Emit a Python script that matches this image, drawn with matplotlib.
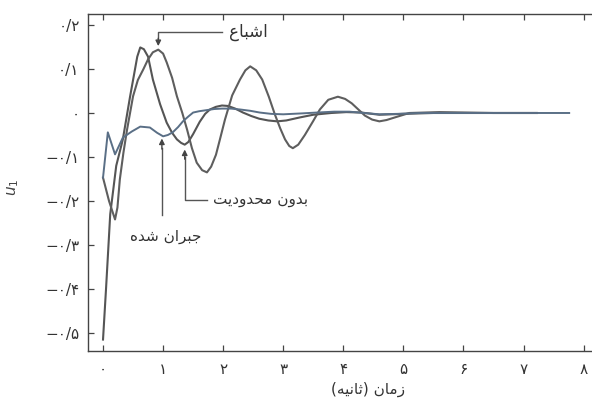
import matplotlib
matplotlib.use("Agg")
import matplotlib.pyplot as plt

plt.rcParams['font.family'] = ['DejaVu Sans']

# Persian text is given already shaped (presentation forms) and in visual order,
# because matplotlib does no RTL layout / Arabic joining by itself.
label_sat = "\uFEC9\uFE8E\uFE92\uFEB7\uFE8D"                                   # اشباع
label_free = "\uFE96\uFEF3\uFEA9\uFEED\uFEAA\uFEA4\uFEE3 \uFEE5\uFEED\uFEAA\uFE91"  # بدون محدودیت
label_comp = "\uFEE9\uFEAA\uFEB7 \uFEE5\uFE8D\uFEAE\uFE92\uFE9F"                  # جبران شده
xlabel = "(\uFEEA\uFEF4\uFEE7\uFE8E\uFE9B) \uFEE5\uFE8E\uFEE3\uFEAF"              # زمان (ثانیه)

# curve: no limit on the input
t_free = [0, 0.05, 0.12, 0.22, 0.33, 0.45, 0.52, 0.57, 0.62, 0.68, 0.75, 0.83, 0.95,
          1.06, 1.15, 1.23, 1.3, 1.36, 1.42, 1.5, 1.61, 1.7, 1.78, 1.88, 1.98, 2.08,
          2.2, 2.33, 2.47, 2.6, 2.75, 2.9, 3.05, 3.28, 3.5, 3.8, 4.05, 4.3, 4.6, 5.0,
          5.5, 6.5, 7.22]
u_free = [-0.515, -0.40, -0.23, -0.12, -0.06, 0.037, 0.09, 0.128, 0.149, 0.145,
          0.128, 0.076, 0.02, -0.022, -0.045, -0.06, -0.068, -0.072, -0.066, -0.048,
          -0.02, -0.002, 0.008, 0.014, 0.017, 0.016, 0.01, 0.001, -0.007, -0.013,
          -0.017, -0.019, -0.017, -0.01, -0.004, 0.0, 0.002, 0.001, -0.004, -0.002,
          0.0, 0.0, 0.0]

# saturated input
t_sat = [0, 0.1, 0.2, 0.24, 0.28, 0.34, 0.4, 0.5, 0.58, 0.67, 0.75, 0.83, 0.92, 1.0,
         1.06, 1.15, 1.23, 1.32, 1.4, 1.48, 1.56, 1.65, 1.73, 1.8, 1.88, 1.95, 2.03,
         2.15, 2.28, 2.37, 2.45, 2.55, 2.65, 2.76, 2.86, 2.95, 3.03, 3.1, 3.16, 3.25,
         3.36, 3.5, 3.61, 3.75, 3.91, 4.03, 4.14, 4.25, 4.36, 4.48, 4.6, 4.72, 4.86,
         5.1, 5.6, 6.5, 7.22]
u_sat = [-0.147, -0.2, -0.242, -0.215, -0.151, -0.09, -0.038, 0.038, 0.075, 0.099,
         0.122, 0.138, 0.144, 0.135, 0.115, 0.08, 0.038, 0.0, -0.038, -0.08, -0.113,
         -0.13, -0.135, -0.122, -0.095, -0.058, -0.015, 0.04, 0.076, 0.097, 0.106,
         0.097, 0.076, 0.037, -0.003, -0.035, -0.06, -0.075, -0.08, -0.072, -0.05,
         -0.018, 0.008, 0.03, 0.037, 0.032, 0.022, 0.008, -0.006, -0.015, -0.019,
         -0.016, -0.01, 0.0, 0.002, 0.0, 0.0]

# compensated
t_comp = [0, 0.08, 0.2, 0.33, 0.48, 0.62, 0.78, 0.9, 1.0, 1.08, 1.16, 1.25, 1.33,
          1.42, 1.5, 1.6, 1.7, 1.85, 1.98, 2.13, 2.28, 2.45, 2.61, 2.8, 3.0, 3.3,
          3.56, 3.85, 4.1, 4.35, 4.6, 4.9, 5.27, 6.0, 7.0, 7.76]
u_comp = [-0.147, -0.044, -0.094, -0.056, -0.042, -0.031, -0.033, -0.045, -0.053,
          -0.05, -0.044, -0.032, -0.019, -0.008, 0.001, 0.004, 0.006, 0.009, 0.01,
          0.01, 0.008, 0.005, 0.001, -0.002, -0.003, -0.001, 0.001, 0.003, 0.003,
          0.0, -0.003, -0.002, 0.0, 0.0, 0.0, 0.0]

xticks = [0, 1, 2, 3, 4, 5, 6, 7, 8]
xticklabels = ["۰", "۱", "۲", "۳", "۴", "۵", "۶", "۷", "۸"]
yticks = [0.2, 0.1, 0.0, -0.1, -0.2, -0.3, -0.4, -0.5]
yticklabels = ["۰/۲", "۰/۱", "۰", "−۰/۱", "−۰/۲", "−۰/۳", "−۰/۴", "−۰/۵"]

fig = plt.figure(figsize=(5.92, 4.07), dpi=100)
ax = fig.add_axes([88/592, 1 - 351/407, 1 - 88/592, (351 - 14)/407])

ax.plot(t_free, u_free, color='#555555', lw=1.5)
ax.plot(t_sat, u_sat, color='#5e5e5e', lw=1.5)
ax.plot(t_comp, u_comp, color='#5a6f86', lw=1.4)

ax.set_xlim(-0.25, 8.14)
ax.set_ylim(-0.541, 0.225)
ax.set_xticks(xticks)
ax.set_xticklabels(xticklabels, fontsize=11, color='#333333')
ax.set_yticks(yticks)
ax.set_yticklabels(yticklabels, fontsize=11, color='#333333')
ax.tick_params(direction='in', length=4, width=0.9, color='#444444', top=True)
ax.tick_params(axis='x', pad=8)
ax.tick_params(axis='y', pad=6)
ax.spines['right'].set_visible(False)
for s in ['left', 'top', 'bottom']:
    ax.spines[s].set_color('#444444')
    ax.spines[s].set_linewidth(1.0)

line_kw = dict(color='#555555', lw=1.0)
head = dict(arrowstyle='-|>', color='#444444', lw=1.0, mutation_scale=8,
            shrinkA=0, shrinkB=0)

# saturation label, pointing down at the second peak
ax.plot([0.92, 0.92, 1.98], [0.165, 0.183, 0.183], **line_kw)
ax.annotate('', xy=(0.92, 0.152), xytext=(0.92, 0.17), arrowprops=head)
ax.text(2.1, 0.183, label_sat, fontsize=12, color='#333333', va='center', ha='left')

# no limit label
ax.plot([1.36, 1.36, 1.73], [-0.1, -0.197, -0.197], **line_kw)
ax.annotate('', xy=(1.36, -0.083), xytext=(1.36, -0.105), arrowprops=head)
ax.text(1.83, -0.197, label_free, fontsize=11, color='#333333', va='center', ha='left')

# compensated label
ax.plot([0.98, 0.98], [-0.08, -0.232], **line_kw)
ax.annotate('', xy=(0.98, -0.058), xytext=(0.98, -0.082), arrowprops=head)
ax.text(1.05, -0.28, label_comp, fontsize=11, color='#333333', va='center', ha='center')

fig.text(368/592, 1 - 389/407, xlabel, fontsize=11, color='#333333', ha='center', va='center')
fig.text(13/592, 1 - 187/407, r'$u_1$', fontsize=11, color='#444444', rotation=90,
         ha='center', va='center')

fig.savefig('out.png', dpi=100)
